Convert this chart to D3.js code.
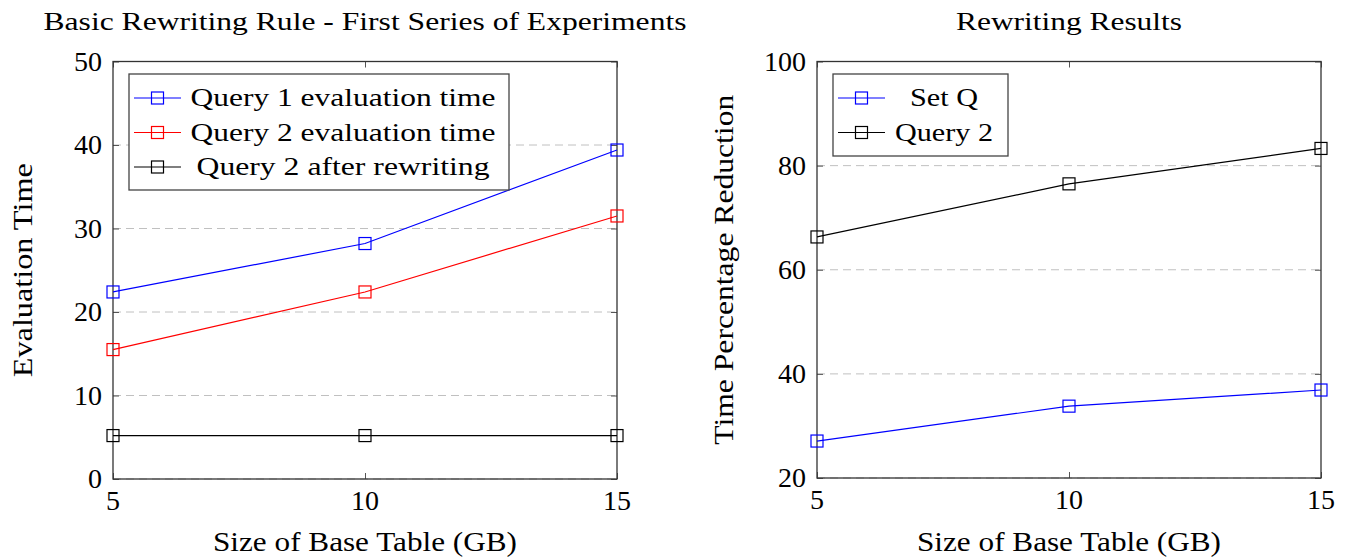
<!DOCTYPE html>
<html>
<head>
<meta charset="utf-8">
<script src="https://cdn.jsdelivr.net/npm/d3@7"></script>
</head>
<body style="margin:0; background:#fff">
<svg id="chart" width="1351" height="559" font-family="Liberation Serif"></svg>
<script>
// x values shared by both panels
var sizes = [5, 10, 15]
var xTicks = [5, 10, 15]

// left panel
var leftTitle = 'Basic Rewriting Rule - First Series of Experiments'
var leftYLabel = 'Evaluation Time'
var leftYTicks = [0, 10, 20, 30, 40, 50]
var query1Time = [22.4, 28.2, 39.4]
var query2Time = [15.5, 22.4, 31.5]
var query2Rewritten = [5.2, 5.2, 5.2]

// right panel
var rightTitle = 'Rewriting Results'
var rightYLabel = 'Time Percentage Reduction'
var rightYTicks = [20, 40, 60, 80, 100]
var setQReduction = [27.1, 33.8, 36.9]
var query2Reduction = [66.3, 76.5, 83.3]

var xLabel = 'Size of Base Table (GB)'

var svg = d3.select('#chart')

// every text goes through here so the font is set in one place
function label(parent, str, size) {
  return parent.append('text')
    .attr('font-family', 'Liberation Serif')
    .style('font-family', "'Liberation Serif'")
    .style('font-size', size + 'px')
    .attr('fill', '#000')
    .text(str)
}

function drawPanel(opt) {
  var x = d3.scaleLinear().domain([5, 15]).range([opt.left, opt.right])
  var y = d3.scaleLinear().domain(opt.yDomain).range([opt.bottom, opt.top])
  var g = svg.append('g')

  // dashed horizontal grid
  g.selectAll('.grid')
    .data(opt.yTicks)
    .enter()
    .append('line')
    .attr('x1', opt.left).attr('x2', opt.right)
    .attr('y1', (d) => y(d)).attr('y2', (d) => y(d))
    .attr('stroke', '#c0c0c0')
    .attr('stroke-width', 1)
    .attr('stroke-dasharray', '8,5')

  // inward ticks on all four sides (labels drawn separately)
  var axes = [
    [d3.axisLeft(y).tickValues(opt.yTicks), `translate(${opt.left},0)`],
    [d3.axisRight(y).tickValues(opt.yTicks), `translate(${opt.right},0)`],
    [d3.axisBottom(x).tickValues(xTicks), `translate(0,${opt.bottom})`],
    [d3.axisTop(x).tickValues(xTicks), `translate(0,${opt.top})`]
  ]
  axes.forEach((a) => {
    g.append('g')
      .attr('transform', a[1])
      .call(a[0].tickSize(-6).tickFormat(''))
  })
  g.selectAll('.domain').remove()
  g.selectAll('.tick line').attr('stroke', '#555').attr('stroke-width', 1)
  g.selectAll('.tick text').remove()

  // tick labels
  opt.yTicks.forEach((t) => {
    label(g, String(t), 28)
      .attr('x', opt.left - 11).attr('y', y(t) + 9)
      .attr('text-anchor', 'end')
  })
  xTicks.forEach((t) => {
    label(g, String(t), 28)
      .attr('x', x(t)).attr('y', opt.bottom + 31)
      .attr('text-anchor', 'middle')
  })

  // frame
  g.append('rect')
    .attr('x', opt.left).attr('y', opt.top)
    .attr('width', opt.right - opt.left)
    .attr('height', opt.bottom - opt.top)
    .attr('fill', 'none')
    .attr('stroke', '#333')
    .attr('stroke-width', 1.3)

  // series
  var line = d3.line().x((d) => x(d[0])).y((d) => y(d[1]))
  opt.series.forEach((s) => {
    var pts = sizes.map((v, i) => [v, s.values[i]])
    g.append('path')
      .attr('d', line(pts))
      .attr('fill', 'none')
      .attr('stroke', s.color)
      .attr('stroke-width', 1.2)
    g.selectAll(null)
      .data(pts)
      .enter()
      .append('rect')
      .attr('x', (d) => x(d[0]) - 6).attr('y', (d) => y(d[1]) - 6)
      .attr('width', 12).attr('height', 12)
      .attr('fill', 'none')
      .attr('stroke', s.color)
      .attr('stroke-width', 1.2)
  })

  // title and axis labels
  var cx = (opt.left + opt.right) / 2
  var cy = (opt.top + opt.bottom) / 2
  label(svg, opt.title, 26)
    .attr('x', cx).attr('y', 30)
    .attr('text-anchor', 'middle')
    .attr('textLength', opt.titleWidth).attr('lengthAdjust', 'spacingAndGlyphs')
  label(svg, xLabel, 27)
    .attr('x', cx).attr('y', 551)
    .attr('text-anchor', 'middle')
    .attr('textLength', 304).attr('lengthAdjust', 'spacingAndGlyphs')
  label(svg, opt.yLabel, 27)
    .attr('transform', `translate(${opt.yLabelX},${cy}) rotate(-90)`)
    .attr('text-anchor', 'middle')
    .attr('textLength', opt.yLabelWidth).attr('lengthAdjust', 'spacingAndGlyphs')

  // legend
  var lg = opt.legend
  svg.append('rect')
    .attr('x', lg.x).attr('y', lg.y)
    .attr('width', lg.w).attr('height', lg.h)
    .attr('fill', '#fff')
    .attr('stroke', '#444')
    .attr('stroke-width', 1.3)
  opt.series.forEach((s, i) => {
    var ry = lg.y + 24 + i * 34.5
    svg.append('line')
      .attr('x1', lg.x + 5).attr('x2', lg.x + 52)
      .attr('y1', ry).attr('y2', ry)
      .attr('stroke', s.color).attr('stroke-width', 1.2)
    svg.append('rect')
      .attr('x', lg.x + 28.5 - 6).attr('y', ry - 6)
      .attr('width', 12).attr('height', 12)
      .attr('fill', 'none')
      .attr('stroke', s.color).attr('stroke-width', 1.2)
    label(svg, s.label, 26)
      .attr('x', lg.textCx).attr('y', ry + 8)
      .attr('text-anchor', 'middle')
      .attr('textLength', s.labelWidth).attr('lengthAdjust', 'spacingAndGlyphs')
  })
}

drawPanel({
  left: 113, right: 617, top: 61.5, bottom: 479,
  yDomain: [0, 50], yTicks: leftYTicks,
  title: leftTitle, titleWidth: 643,
  yLabel: leftYLabel, yLabelWidth: 214, yLabelX: 32,
  series: [
    { label: 'Query 1 evaluation time', values: query1Time, color: '#0000ff', labelWidth: 305 },
    { label: 'Query 2 evaluation time', values: query2Time, color: '#ff0000', labelWidth: 305 },
    { label: 'Query 2 after rewriting', values: query2Rewritten, color: '#000', labelWidth: 293 }
  ],
  legend: { x: 129, y: 74, w: 380, h: 116, textCx: 343 }
})

drawPanel({
  left: 817, right: 1321, top: 61.5, bottom: 478,
  yDomain: [20, 100], yTicks: rightYTicks,
  title: rightTitle, titleWidth: 226,
  yLabel: rightYLabel, yLabelWidth: 350, yLabelX: 733,
  series: [
    { label: 'Set Q', values: setQReduction, color: '#0000ff', labelWidth: 68 },
    { label: 'Query 2', values: query2Reduction, color: '#000', labelWidth: 98 }
  ],
  legend: { x: 833, y: 74, w: 175, h: 82, textCx: 944 }
})
</script>
</body>
</html>
